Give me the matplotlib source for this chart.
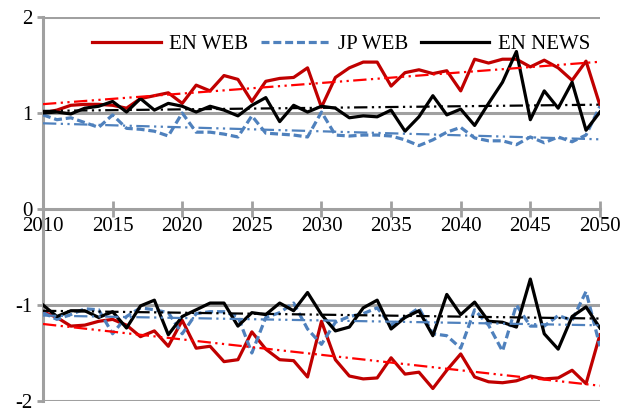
import matplotlib
matplotlib.use("Agg")
import matplotlib.pyplot as plt
import numpy as np

plt.rcParams['font.family'] = ['Liberation Serif', 'DejaVu Serif']
plt.rcParams['axes.unicode_minus'] = False

years = np.arange(2010, 2051)

# upper group (around +1)
en_web_top = [1.00, 1.03, 1.08, 1.09, 1.09, 1.08, 1.05, 1.15, 1.18, 1.21,
              1.10, 1.29, 1.23, 1.39, 1.35, 1.12, 1.33, 1.36, 1.37, 1.47,
              1.06, 1.37, 1.47, 1.53, 1.53, 1.28, 1.42, 1.45, 1.41, 1.44,
              1.23, 1.56, 1.52, 1.56, 1.56, 1.48, 1.55, 1.47, 1.34, 1.54,
              1.08]
jp_web_top = [0.98, 0.93, 0.95, 0.90, 0.85, 0.98, 0.84, 0.83, 0.81, 0.76,
              1.00, 0.80, 0.80, 0.78, 0.75, 0.97, 0.79, 0.78, 0.77, 0.75,
              1.01, 0.77, 0.76, 0.77, 0.77, 0.76, 0.72, 0.66, 0.72, 0.80,
              0.85, 0.74, 0.71, 0.71, 0.67, 0.75, 0.69, 0.75, 0.70, 0.77,
              1.07]
en_news_top = [1.00, 1.01, 0.99, 1.05, 1.07, 1.12, 1.01, 1.15, 1.03, 1.10,
               1.07, 1.01, 1.07, 1.03, 0.97, 1.08, 1.16, 0.91, 1.08, 1.01,
               1.07, 1.05, 0.95, 0.97, 0.96, 1.03, 0.81, 0.96, 1.18, 0.98,
               1.04, 0.87, 1.10, 1.32, 1.64, 0.93, 1.23, 1.05, 1.32, 0.82,
               1.01]

# lower group (around -1)
en_web_bot = [-1.07, -1.13, -1.22, -1.21, -1.17, -1.15, -1.21, -1.33, -1.27, -1.43,
              -1.16, -1.45, -1.43, -1.59, -1.57, -1.28, -1.46, -1.57, -1.58, -1.75,
              -1.17, -1.57, -1.74, -1.77, -1.76, -1.55, -1.72, -1.70, -1.87, -1.68,
              -1.51, -1.75, -1.80, -1.81, -1.79, -1.74, -1.77, -1.76, -1.68, -1.82,
              -1.31]
jp_web_bot = [-1.08, -1.15, -1.10, -1.04, -1.05, -1.30, -1.12, -1.03, -1.05, -1.08,
              -1.30, -1.09, -1.07, -1.07, -1.12, -1.50, -1.13, -1.08, -0.98, -1.25,
              -1.41, -1.18, -1.12, -1.09, -1.03, -1.21, -1.13, -1.03, -1.30, -1.32,
              -1.45, -1.05, -1.21, -1.48, -1.00, -1.22, -1.22, -1.11, -1.16, -0.86,
              -1.43]
en_news_bot = [-1.00, -1.12, -1.06, -1.06, -1.13, -1.07, -1.24, -1.01, -0.95, -1.31,
               -1.12, -1.05, -0.98, -0.98, -1.22, -1.08, -1.10, -0.98, -1.06, -0.87,
               -1.10, -1.27, -1.23, -1.03, -0.95, -1.25, -1.13, -1.06, -1.32, -0.89,
               -1.10, -0.97, -1.17, -1.18, -1.23, -0.73, -1.30, -1.46, -1.12, -1.02,
               -1.24]

RED = '#c00000'
BLUE = '#4f81bd'
GRAY = '#a0a0a0'
trend_dash = (6, 2, 1, 2, 1, 2)

fig = plt.figure(figsize=(6.23, 4.09), dpi=100)
ax = fig.add_axes([0.069, 0.0196, 0.894, 0.9389])

for yv in [2, 1, -1, -2]:
    ax.axhline(yv, color=GRAY, lw=2.2, zorder=1)

ax.plot(years, en_web_top, color=RED, lw=2.3, label='EN WEB', zorder=3)
ax.plot(years, jp_web_top, color=BLUE, lw=2.3, dashes=(2.5, 1.2), label='JP WEB', zorder=3)
ax.plot(years, en_news_top, color='black', lw=2.3, label='EN NEWS', zorder=3)
ax.plot(years, en_web_bot, color=RED, lw=2.3, zorder=3)
ax.plot(years, jp_web_bot, color=BLUE, lw=2.3, dashes=(2.5, 1.2), zorder=3)
ax.plot(years, en_news_bot, color='black', lw=2.3, zorder=3)

# linear trend lines
for series, col in [(en_web_top, '#ff0000'), (jp_web_top, BLUE), (en_news_top, 'black'),
                    (en_web_bot, '#ff0000'), (jp_web_bot, BLUE), (en_news_bot, 'black')]:
    k, b = np.polyfit(years, series, 1)
    ax.plot(years, k * years + b, color=col, lw=1.6, dashes=trend_dash, zorder=4)

ax.set_xlim(2010, 2050)
ax.set_ylim(-2, 2)
ax.spines['top'].set_visible(False)
ax.spines['right'].set_visible(False)
ax.spines['bottom'].set_position(('data', 0))
ax.spines['bottom'].set_color(GRAY)
ax.spines['bottom'].set_linewidth(2.2)
ax.spines['left'].set_color(GRAY)
ax.spines['left'].set_linewidth(2.2)

ax.set_xticks(np.arange(2010, 2051, 5))
ax.set_yticks([-2, -1, 0, 1, 2])
ax.tick_params(axis='x', direction='inout', length=11, width=2, color=GRAY,
               labelsize=15, pad=0)
ax.tick_params(axis='y', direction='out', length=4.5, width=2, color=GRAY,
               labelsize=15, pad=3)

ax.legend(loc='upper right', bbox_to_anchor=(1.012, 0.998), ncol=3, frameon=False,
          fontsize=15, handlelength=3.3, handletextpad=0.4, columnspacing=0.6,
          borderpad=0.3)

fig.savefig('out.png', dpi=100)
